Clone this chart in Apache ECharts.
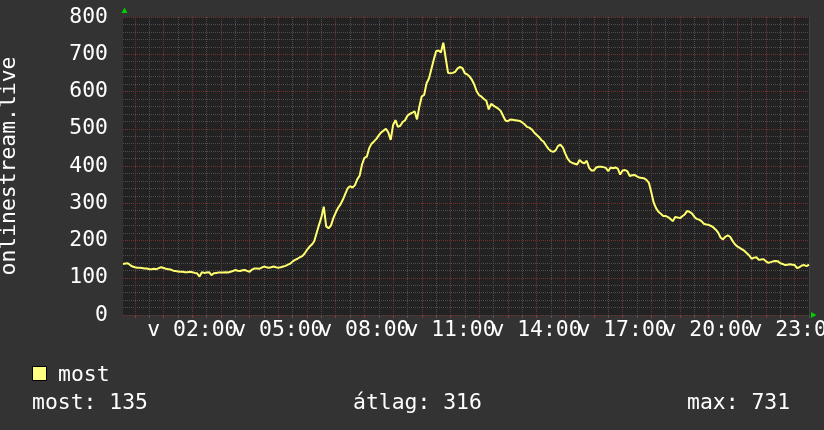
<!DOCTYPE html>
<html>
<head>
<meta charset="utf-8">
<script src="https://cdn.jsdelivr.net/npm/echarts@6/dist/echarts.min.js"></script>
<style>html,body{margin:0;padding:0;background:#333333;}#c{width:824px;height:430px;}</style>
</head>
<body>
<div id="c"></div>
<script>
// 5-minute samples from 23:35 (previous day) to 23:30
const most = [
137,138,139,134,130,128,127,127,126,125,125,123,123,124,123,126,128,126,124,123,
122,119,118,117,116,116,115,115,116,115,113,112,103,115,113,114,115,107,112,113,
114,114,114,115,114,116,118,121,119,118,120,121,118,116,122,125,125,124,127,130,
128,127,128,130,128,127,128,130,132,135,138,144,148,151,155,158,165,175,183,189,
198,220,242,262,291,238,233,240,260,275,288,297,310,325,340,346,342,348,364,374,
404,422,425,448,460,466,473,482,490,495,500,490,470,510,523,505,508,518,523,535,
540,543,547,525,560,587,591,622,635,660,685,708,710,705,731,690,650,649,650,653,
662,666,663,649,646,640,631,618,600,590,586,580,575,552,567,562,558,554,548,535,
522,520,525,524,523,522,521,517,512,505,503,498,490,484,478,470,465,455,446,440,
438,442,454,457,450,434,420,412,408,406,404,416,410,407,414,395,388,388,396,398,
398,397,395,386,396,394,396,393,377,388,389,386,373,375,376,372,369,368,367,363,
355,330,302,287,277,272,266,266,263,258,252,263,262,260,265,270,279,277,273,264,
258,256,252,245,243,242,239,235,229,221,208,203,210,214,210,199,190,184,180,176,
172,166,160,151,154,155,148,149,150,144,140,142,144,145,144,139,137,134,135,136,
135,134,126,128,133,134,131,135
];
const startMinute = 23 * 60 + 35;
const stepMinutes = 5;
const pad = n => (n < 10 ? '0' : '') + n;
const times = [];
for (let i = 0; i < most.length; i++) {
  const m = (startMinute + i * stepMinutes) % 1440;
  times.push(pad(Math.floor(m / 60)) + ':' + pad(m % 60));
}
// tick labels, split over two overlaid axes so neighbouring labels never collide
const labelTimesA = ['02:00', '08:00', '14:00', '20:00'];
const labelTimesB = ['05:00', '11:00', '17:00', '23:00'];
const labelPrefix = 'v ';
const yTitle = 'onlinestream.live';
const seriesName = 'most';
const statTexts = ['most: 135', 'átlag: 316', 'max: 731'];

const FONT = '"DejaVu Sans Mono", monospace';
const FS = 21.4;
const RED = '#703434';
const GRAY = '#4e4e4e';
const isHour = (i, v) => v.slice(3) === '00';
const isHalf = (i, v) => v.slice(3) === '30';
const labelStyle = list => ({
  show: true,
  interval: (i, v) => list.indexOf(v) >= 0,
  formatter: v => labelPrefix + v,
  color: '#ffffff', fontFamily: FONT, fontSize: FS, margin: 5,
  showMinLabel: true, showMaxLabel: true, hideOverlap: false
});

const chart = echarts.init(document.getElementById('c'), null, {renderer: 'canvas'});
chart.setOption({
  backgroundColor: '#333333',
  animation: false,
  grid: {left: 123, right: 15, top: 17, bottom: 115, show: true, backgroundColor: '#222222',
         borderWidth: 0, containLabel: false, outerBoundsMode: 'none'},
  xAxis: [
    {
      type: 'category', data: times, boundaryGap: false, position: 'bottom',
      axisLine: {show: false},
      axisTick: {show: true, interval: isHour, length: 3, lineStyle: {color: '#8a3a3a'}},
      axisLabel: labelStyle(labelTimesA),
      splitLine: {show: true, interval: isHour, lineStyle: {color: RED, type: [1, 1], width: 1}}
    },
    {
      type: 'category', data: times, boundaryGap: false, position: 'bottom',
      axisLine: {show: false},
      axisTick: {show: true, interval: isHalf, length: 3, lineStyle: {color: '#555555'}},
      axisLabel: labelStyle(labelTimesB),
      splitLine: {show: true, interval: isHalf, lineStyle: {color: GRAY, type: [1, 1], width: 1}}
    }
  ],
  yAxis: {
    type: 'value', min: 0, max: 800, interval: 100,
    axisLine: {show: false},
    axisTick: {show: false},
    axisLabel: {color: '#ffffff', fontFamily: FONT, fontSize: FS, margin: 15},
    splitLine: {show: true, lineStyle: {color: RED, type: [1, 1], width: 1}},
    minorTick: {show: false, splitNumber: 5},
    minorSplitLine: {show: true, lineStyle: {color: GRAY, type: [1, 1], width: 1}},
    name: yTitle, nameLocation: 'middle', nameGap: 103,
    nameTextStyle: {color: '#ffffff', fontFamily: FONT, fontSize: FS}
  },
  series: [{
    name: seriesName, type: 'line', xAxisIndex: 0, data: most,
    symbol: 'none', lineStyle: {color: '#ffff70', width: 2}, z: 5
  }],
  graphic: [
    {type: 'polygon', shape: {points: [[121.5, 13], [127.5, 13], [124.5, 7.5]]}, style: {fill: '#00d000'}},
    {type: 'polygon', shape: {points: [[811, 312], [811, 318], [816.5, 315]]}, style: {fill: '#00d000'}},
    {type: 'rect', shape: {x: 32.5, y: 366.5, width: 14, height: 14}, style: {fill: '#ffff80', stroke: '#000000', lineWidth: 1}},
    {type: 'text', x: 58, y: 375, style: {text: seriesName, fill: '#ffffff', font: FS + 'px ' + FONT, verticalAlign: 'middle'}},
    {type: 'text', x: 32, y: 403, style: {text: statTexts[0], fill: '#ffffff', font: FS + 'px ' + FONT, verticalAlign: 'middle'}},
    {type: 'text', x: 353, y: 403, style: {text: statTexts[1], fill: '#ffffff', font: FS + 'px ' + FONT, verticalAlign: 'middle'}},
    {type: 'text', x: 687, y: 403, style: {text: statTexts[2], fill: '#ffffff', font: FS + 'px ' + FONT, verticalAlign: 'middle'}}
  ]
});
</script>
</body>
</html>
